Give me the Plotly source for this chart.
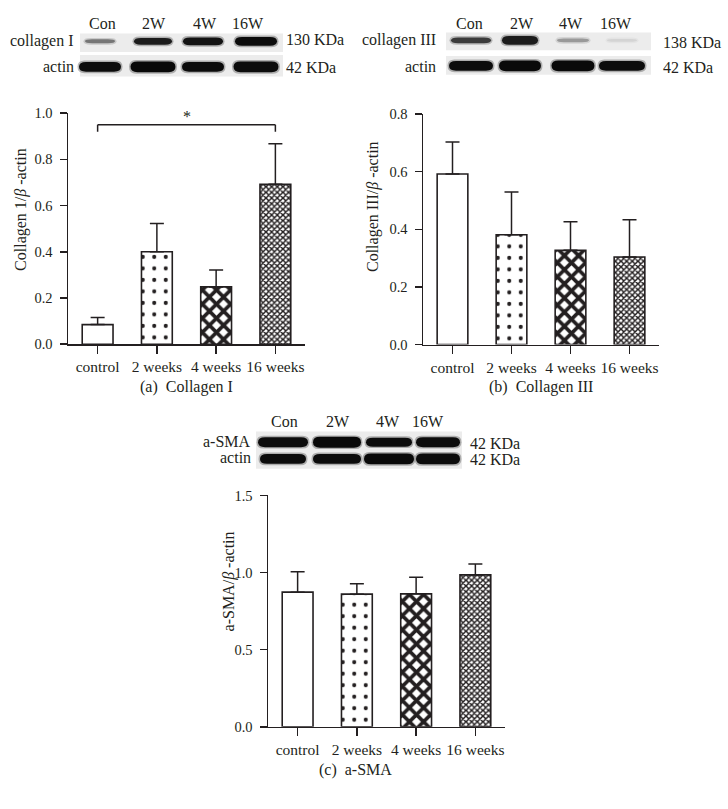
import plotly.graph_objects as go

W, H = 728, 809
FONT = "Liberation Serif"
INK = "#231f20"

# ---------------- data ----------------
categories = ["control", "2 weeks", "4 weeks", "16 weeks"]

col1_mean = [0.085, 0.400, 0.248, 0.692]
col1_err = [0.031, 0.123, 0.073, 0.176]

col3_mean = [0.592, 0.381, 0.327, 0.304]
col3_err = [0.111, 0.149, 0.099, 0.129]

sma_mean = [0.873, 0.860, 0.862, 0.985]
sma_err = [0.133, 0.068, 0.108, 0.070]

lanes = ["Con", "2W", "4W", "16W"]
col1_band = [0.50, 0.88, 0.92, 0.95]
actin_a_band = [0.95, 0.96, 0.95, 0.95]
col3_band = [0.75, 0.88, 0.35, 0.10]
actin_b_band = [0.95, 0.96, 0.96, 0.95]
sma_band = [0.95, 0.96, 0.95, 0.95]
actin_c_band = [0.95, 0.95, 0.96, 0.95]

sig_pair = ["control", "16 weeks"]
sig_level = 0.95
sig_drop = 0.03

# ---------------- helpers (layout) ----------------
def fx(x):
    return x / W

def fy(y):
    return 1 - y / H

fig = go.Figure()

pat_shape = ["", ".", "x", "x"]
pat_size = [8, 11.5, 10, 4]
pat_sol = [0.1, 0.1, 0.6, 0.6]


def add_bars(xa, ya, mean, err):
    fig.add_trace(go.Bar(
        x=categories, y=mean, xaxis=xa, yaxis=ya, width=0.52,
        marker=dict(color="white", line=dict(color=INK, width=1.6),
                    pattern=dict(shape=pat_shape, size=pat_size, solidity=pat_sol,
                                 fgcolor=INK, bgcolor="white", fillmode="replace")),
        error_y=dict(type="data", array=err, arrayminus=[0] * len(err), symmetric=False,
                     color=INK, thickness=1.5, width=7),
        showlegend=False, hoverinfo="skip",
    ))


add_bars("x", "y", col1_mean, col1_err)
add_bars("x2", "y2", col3_mean, col3_err)
add_bars("x3", "y3", sma_mean, sma_err)

panels = {
    "": dict(x=(68, 305), y=(107.3, 343.0), rng=[0, 1.0], dt=0.2),
    "2": dict(x=(423, 659), y=(108.3, 343.3), rng=[0, 0.8], dt=0.2),
    "3": dict(x=(268, 505), y=(497.3, 733.3), rng=[0, 1.5], dt=0.5),
}

layout = dict(
    width=W, height=H, margin=dict(l=0, r=0, t=0, b=0),
    paper_bgcolor="white", plot_bgcolor="white",
    font=dict(family=FONT, color=INK, size=15),
    bargap=0.3, hovermode=False,
)
for k, p in panels.items():
    layout["xaxis" + k] = dict(
        domain=[fx(p["x"][0]), fx(p["x"][1])], anchor="y" + k,
        range=[-0.5, 3.5], showline=True, linecolor=INK, linewidth=1.5,
        ticks="outside", ticklen=8, tickwidth=1.5, tickcolor=INK,
        showgrid=False, zeroline=False, tickfont=dict(size=15.5, family=FONT, color=INK),
        fixedrange=True,
    )
    layout["yaxis" + k] = dict(
        domain=[fy(p["y"][1]), fy(p["y"][0])], anchor="x" + k,
        range=p["rng"], dtick=p["dt"], tick0=0, tickformat=".1f",
        showline=True, linecolor=INK, linewidth=1.5,
        ticks="outside", ticklen=7, tickwidth=1.5, tickcolor=INK,
        showgrid=False, zeroline=False, tickfont=dict(size=14.5, family=FONT, color=INK),
        ticklabelstandoff=4, fixedrange=True,
    )
fig.update_layout(**layout)

shapes = []
annotations = []

# significance bracket on panel (a)
shapes.append(dict(type="line", xref="x", yref="y", x0=sig_pair[0], x1=sig_pair[1],
                   y0=sig_level, y1=sig_level, line=dict(color=INK, width=1.5)))
for c in sig_pair:
    shapes.append(dict(type="line", xref="x", yref="y", x0=c, x1=c,
                       y0=sig_level - sig_drop, y1=sig_level, line=dict(color=INK, width=1.5)))
annotations.append(dict(xref="x", yref="y", x=1.5, y=sig_level, text="*", showarrow=False,
                        yanchor="bottom", yshift=-2, font=dict(size=16, family=FONT, color=INK)))

# y-axis titles
for (tx, ty, txt) in [(21, 206, "Collagen 1/<i>β</i> -actin"),
                      (373, 202, "Collagen III/<i>β</i> -actin"),
                      (229, 585, "a-SMA/<i>β</i> -actin")]:
    annotations.append(dict(xref="paper", yref="paper", x=fx(tx), y=fy(ty), text=txt,
                            textangle=-90, showarrow=False, xanchor="center", yanchor="middle",
                            font=dict(size=16, family=FONT, color=INK)))

# captions
for (tx, ty, txt) in [(186, 387, "(a)  Collagen I"), (541, 387, "(b)  Collagen III"),
                      (355, 777, "(c)  a-SMA")]:
    annotations.append(dict(xref="paper", yref="paper", x=fx(tx), y=fy(ty), text=txt,
                            showarrow=False, xanchor="center", yanchor="middle",
                            font=dict(size=16, family=FONT, color=INK)))


def band_path(xc, yc, w, h):
    r = min(7, w / 4)
    x0, x1 = xc - w / 2, xc + w / 2
    y0, y1 = yc - h / 2, yc + h / 2
    pts = [
        ("M", (x0, yc)), ("Q", (x0, y0), (x0 + r, y0)), ("L", (x1 - r, y0)),
        ("Q", (x1, y0), (x1, yc)), ("Q", (x1, y1), (x1 - r, y1)), ("L", (x0 + r, y1)),
        ("Q", (x0, y1), (x0, yc)),
    ]
    s = ""
    for item in pts:
        cmd = item[0]
        s += cmd + " ".join("%.5f,%.5f" % (fx(px), fy(py)) for px, py in item[1:]) + " "
    return s + "Z"


def gray(v):
    g = int(round(235 * (1 - v)))
    return "rgb(%d,%d,%d)" % (g, g, g)


def blot(strip_x, rows, lane_x, lane_y, row_lab_x, kda_x):
    for name, lx in zip(lanes, lane_x["labels"]):
        annotations.append(dict(xref="paper", yref="paper", x=fx(lx), y=fy(lane_y), text=name,
                                showarrow=False, xanchor="center", yanchor="middle",
                                font=dict(size=16, family=FONT, color=INK)))
    for row in rows:
        shapes.append(dict(type="rect", xref="paper", yref="paper", layer="below",
                           x0=fx(strip_x[0]), x1=fx(strip_x[1]),
                           y0=fy(row["strip"][1]), y1=fy(row["strip"][0]),
                           fillcolor="#ececec", line=dict(width=0)))
        for xc, v, w, h in zip(lane_x["bands"], row["vals"], row["w"], row["h"]):
            shapes.append(dict(type="path", xref="paper", yref="paper",
                               path=band_path(xc, row["y"], w + 3, h + 3),
                               fillcolor=gray(v * 0.8), opacity=0.35, line=dict(width=0)))
            shapes.append(dict(type="path", xref="paper", yref="paper",
                               path=band_path(xc, row["y"], w, h),
                               fillcolor=gray(v), line=dict(width=0)))
        annotations.append(dict(xref="paper", yref="paper", x=fx(row_lab_x), y=fy(row["ly"]),
                                text=row["label"], showarrow=False, xanchor="right",
                                yanchor="middle", font=dict(size=16, family=FONT, color=INK)))
        annotations.append(dict(xref="paper", yref="paper", x=fx(kda_x), y=fy(row["ky"]),
                                text=row["kda"], showarrow=False, xanchor="left",
                                yanchor="middle", font=dict(size=16, family=FONT, color=INK)))


# blot (a)
blot((80, 283),
     [dict(label="collagen I", kda="130 KDa", vals=col1_band, y=34, ly=34, ky=32,
           strip=(26, 45), w=[30, 38, 40, 42], h=[4, 7, 8, 9]),
      dict(label="actin", kda="42 KDa", vals=actin_a_band, y=60, ly=60, ky=61,
           strip=(48, 70), w=[42, 45, 42, 45], h=[10, 11, 10, 11])],
     dict(labels=[102, 154, 205, 248], bands=[100, 153, 203, 256]), 16, 76, 284)

# blot (b)
blot((446, 651),
     [dict(label="collagen III", kda="138 KDa", vals=col3_band, y=33, ly=33, ky=35,
           strip=(25, 43), w=[40, 36, 32, 30], h=[6, 9, 4, 3]),
      dict(label="actin", kda="42 KDa", vals=actin_b_band, y=59, ly=60, ky=61,
           strip=(49, 68), w=[44, 42, 43, 46], h=[10, 11, 11, 10])],
     dict(labels=[469, 522, 571, 616], bands=[471, 520, 573, 622]), 16, 438, 661)

# blot (c)
blot((256, 462),
     [dict(label="a-SMA", kda="42 KDa", vals=sma_band, y=443, ly=442, ky=444,
           strip=(432, 452), w=[50, 48, 46, 44], h=[10, 11, 9, 10]),
      dict(label="actin", kda="42 KDa", vals=actin_c_band, y=460, ly=459, ky=461,
           strip=(451, 470), w=[46, 48, 50, 44], h=[10, 10, 11, 11])],
     dict(labels=[284, 338, 388, 428], bands=[283, 337, 389, 438]), 422, 253, 468)

fig.update_layout(shapes=shapes, annotations=annotations)
fig.write_html("out.html", config={"displayModeBar": False, "staticPlot": True},
               post_script="document.body.style.margin='0';document.body.style.overflow='hidden';")
